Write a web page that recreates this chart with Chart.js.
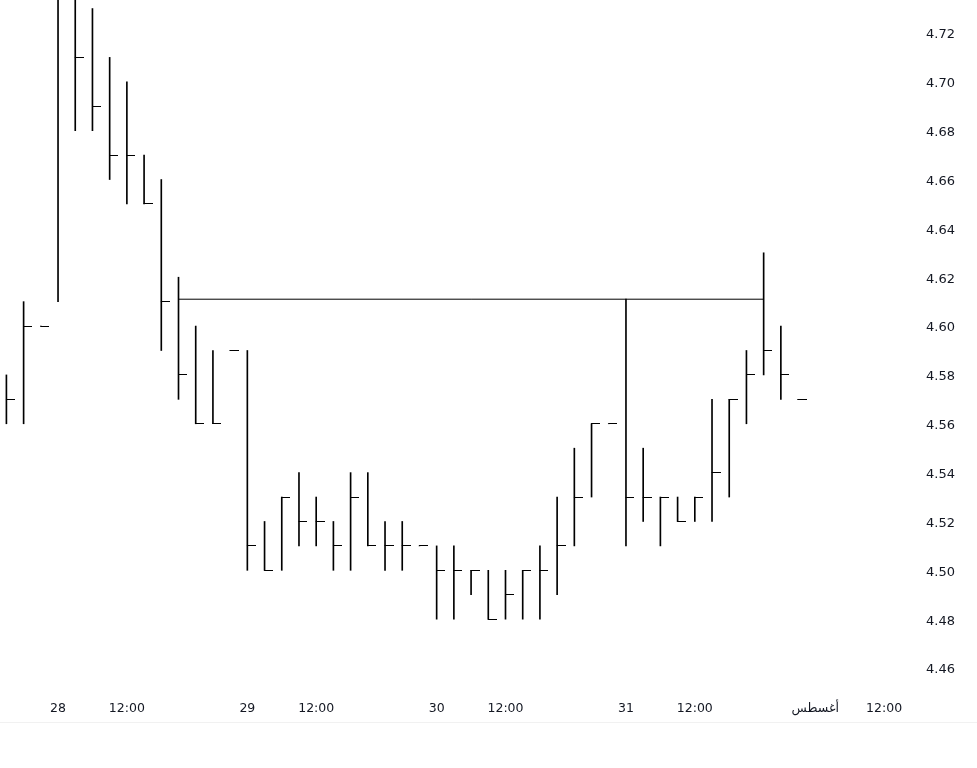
<!DOCTYPE html>
<html>
<head>
<meta charset="utf-8">
<title>HLC bars</title>
<script src="https://cdn.jsdelivr.net/npm/chart.js@4/dist/chart.umd.min.js"></script>
<style>
    html, body { margin: 0; padding: 0; background: #fff; }
    .chart-wrap { position: relative; width: 977px; height: 768px; }
    .chart-wrap__rule { position: absolute; left: 0; right: 0; top: 722px; height: 1px; background: #f1f1f1; }
</style>
</head>
<body>
<div class="chart-wrap">
    <canvas id="hlcChart"></canvas>
    <div class="chart-wrap__rule"></div>
</div>
<script>
// one bar per hour, 11 bars per trading day
var highs = [4.58, 4.61, 4.60, 4.76, 4.75, 4.73, 4.71, 4.70, 4.67, 4.66, 4.62, 4.60, 4.59, 4.59, 4.59, 4.52,
    4.53, 4.54, 4.53, 4.52, 4.54, 4.54, 4.52, 4.52, 4.51, 4.51, 4.51, 4.50, 4.50, 4.50, 4.50, 4.51,
    4.53, 4.55, 4.56, 4.56, 4.611, 4.55, 4.53, 4.53, 4.53, 4.57, 4.57, 4.59, 4.63, 4.60, 4.57];
var lows = [4.56, 4.56, 4.60, 4.61, 4.68, 4.68, 4.66, 4.65, 4.65, 4.59, 4.57, 4.56, 4.56, 4.59, 4.50, 4.50,
    4.50, 4.51, 4.51, 4.50, 4.50, 4.51, 4.50, 4.50, 4.51, 4.48, 4.48, 4.49, 4.48, 4.48, 4.48, 4.48,
    4.49, 4.51, 4.53, 4.56, 4.51, 4.52, 4.51, 4.52, 4.52, 4.52, 4.53, 4.56, 4.58, 4.57, 4.57];
var closes = [4.57, 4.60, 4.60, 4.74, 4.71, 4.69, 4.67, 4.67, 4.65, 4.61, 4.58, 4.56, 4.56, 4.59, 4.51, 4.50,
    4.53, 4.52, 4.52, 4.51, 4.53, 4.51, 4.51, 4.51, 4.51, 4.50, 4.50, 4.50, 4.48, 4.49, 4.50, 4.50,
    4.51, 4.53, 4.56, 4.56, 4.53, 4.53, 4.53, 4.52, 4.53, 4.54, 4.57, 4.58, 4.59, 4.58, 4.57];

// horizontal level drawn across the chart
var levelFrom = 10;
var levelTo = 44;
var levelValue = 4.611;

var xTickIndex = [3, 7, 14, 18, 25, 29, 36, 40, 47, 51];
var xTickLabels = ['28', '12:00', '29', '12:00', '30', '12:00', '31', '12:00', 'أغسطس', '12:00'];
var yTicks = [4.46, 4.48, 4.50, 4.52, 4.54, 4.56, 4.58, 4.60, 4.62, 4.64, 4.66, 4.68, 4.70, 4.72];

(function () {
    'use strict';

    var INK = '#000000';
    var TEXT = '#131722';

    // close tick: short stroke on the right side of the bar
    function makeCloseTick() {
        var c = document.createElement('canvas');
        c.width = 17;
        c.height = 1;
        var g = c.getContext('2d');
        g.fillStyle = INK;
        g.fillRect(8, 0, 9, 1);
        return c;
    }

    // drop the label overhang padding so the plot fills the canvas edge to edge
    function noPadding(scale) {
        scale.paddingTop = 0;
        scale.paddingBottom = 0;
        scale.paddingLeft = 0;
        scale.paddingRight = 0;
    }

    function init() {
        if (typeof Chart === 'undefined') return;
        var el = document.getElementById('hlcChart');
        if (!el) return;

        var ranges = highs.map(function (h, i) { return { x: i, y: [lows[i], h] }; });
        var closePts = closes.map(function (c, i) { return { x: i, y: c }; });
        var levelPts = [{ x: levelFrom, y: levelValue }, { x: levelTo, y: levelValue }];
        var tick = makeCloseTick();

        new Chart(el, {
            type: 'bar',
            data: {
                datasets: [
                    {
                        type: 'line',
                        data: levelPts,
                        borderColor: INK,
                        borderWidth: 1,
                        pointRadius: 0,
                        fill: false,
                    },
                    {
                        type: 'line',
                        data: closePts,
                        showLine: false,
                        pointStyle: tick,
                        pointRadius: 4,
                        pointHoverRadius: 4,
                    },
                    {
                        data: ranges,
                        backgroundColor: INK,
                        borderWidth: 0,
                        barThickness: 1,
                    },
                ],
            },
            options: {
                responsive: true,
                maintainAspectRatio: false,
                animation: false,
                layout: { padding: 0, autoPadding: false },
                plugins: { legend: { display: false }, tooltip: { enabled: false } },
                scales: {
                    x: {
                        type: 'linear',
                        min: -0.372,
                        max: 52.62,
                        offset: false,
                        grid: { display: false, drawTicks: false, offset: false },
                        border: { display: false },
                        afterFit: function (scale) {
                            scale.height = 78;
                            noPadding(scale);
                        },
                        afterBuildTicks: function (scale) {
                            scale.ticks = xTickIndex.map(function (v) { return { value: v }; });
                        },
                        ticks: {
                            autoSkip: false,
                            maxRotation: 0,
                            padding: 11,
                            color: TEXT,
                            font: { family: 'DejaVu Sans', size: 12.5 },
                            callback: function (value, index) { return xTickLabels[index]; },
                        },
                    },
                    y: {
                        position: 'right',
                        min: 4.451,
                        max: 4.7335,
                        grid: { display: false, drawTicks: false },
                        border: { display: false },
                        afterFit: function (scale) {
                            scale.width = 65;
                            noPadding(scale);
                        },
                        afterBuildTicks: function (scale) {
                            scale.ticks = yTicks.map(function (v) { return { value: v }; });
                        },
                        ticks: {
                            padding: 14,
                            labelOffset: 2,
                            color: TEXT,
                            font: { family: 'DejaVu Sans', size: 13 },
                            callback: function (value) { return value.toFixed(2); },
                        },
                    },
                },
            },
        });
    }

    if (document.readyState === 'loading') {
        document.addEventListener('DOMContentLoaded', init);
    } else {
        init();
    }
})();
</script>
</body>
</html>
